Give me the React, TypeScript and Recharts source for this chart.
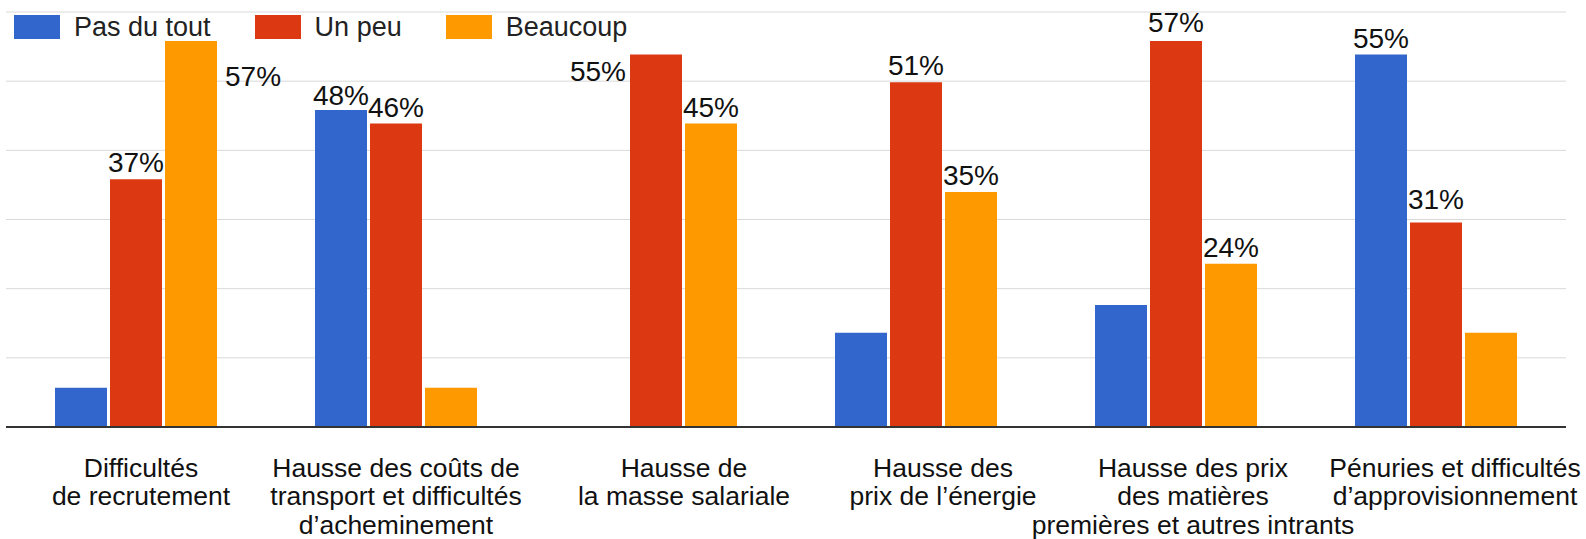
import React from 'react';
import { BarChart, Bar, XAxis, YAxis, CartesianGrid, LabelList } from 'recharts';

const FONT = '"Liberation Sans", Arial, sans-serif';

const CATEGORIES = [
  'Difficultés\nde recrutement',
  'Hausse des coûts de\ntransport et difficultés\nd’acheminement',
  'Hausse de\nla masse salariale',
  'Hausse des\nprix de l’énergie',
  'Hausse des prix\ndes matières\npremières et autres intrants',
  'Pénuries et difficultés\nd’approvisionnement',
];

// bar heights (%)
const PAS_DU_TOUT = [5.8, 46.8, 0, 13.9, 18.0, 55.0];
const UN_PEU = [36.6, 44.8, 55.0, 50.9, 57.0, 30.2];
const BEAUCOUP = [57.0, 5.8, 44.8, 34.7, 24.1, 13.9];

// printed labels (null = no label shown)
const LABELS_PAS_DU_TOUT = [null, '48%', null, null, null, '55%'];
const LABELS_UN_PEU = ['37%', '46%', '55%', '51%', '57%', '31%'];
const LABELS_BEAUCOUP = ['57%', null, '45%', '35%', '24%', null];

const Y_MAX = 61.28;
const GRID_TICKS = [0, 1, 2, 3, 4, 5, 6].map(i => (Y_MAX / 6) * i);

// category captions are not exactly centred under their groups in the original
const TICK_DX = [5, 0, 28, 27, 17, 19];

const SERIES = [
  { key: 'pas', name: 'Pas du tout', color: '#3366cc', values: PAS_DU_TOUT, labels: LABELS_PAS_DU_TOUT },
  { key: 'peu', name: 'Un peu', color: '#dc3912', values: UN_PEU, labels: LABELS_UN_PEU },
  { key: 'beaucoup', name: 'Beaucoup', color: '#ff9900', values: BEAUCOUP, labels: LABELS_BEAUCOUP },
];

// labels that sit beside the bar instead of on top
const SIDE_LABELS: Record<string, { side: 'left' | 'right'; dy: number }> = {
  'beaucoup-0': { side: 'right', dy: 45 },
  'peu-2': { side: 'left', dy: 26 },
};
// small vertical nudges for labels on top
const LABEL_NUDGE: Record<string, number> = {
  'pas-5': -5,
  'peu-5': -6,
  'peu-4': -2,
  'pas-1': 2,
};

const data = CATEGORIES.map((name, i) => {
  const row: Record<string, any> = { name, idx: i };
  SERIES.forEach(s => {
    row[s.key] = s.values[i];
    row[`${s.key}Label`] = s.labels[i];
  });
  return row;
});

const makeLabel = (seriesKey: string) => (props: any) => {
  const { x, y, width, value, index } = props;
  if (!value) return null;
  const o = SIDE_LABELS[`${seriesKey}-${index}`];
  let tx = x + width / 2;
  let ty = y - 7 + (LABEL_NUDGE[`${seriesKey}-${index}`] || 0);
  let anchor: 'middle' | 'start' | 'end' = 'middle';
  if (o) {
    ty = y + o.dy;
    if (o.side === 'right') {
      tx = x + width + 8;
      anchor = 'start';
    } else {
      tx = x - 4;
      anchor = 'end';
    }
  }
  return (
    <text x={tx} y={ty} textAnchor={anchor} fontSize={28} fill="#111" fontFamily={FONT}>
      {value}
    </text>
  );
};

const CategoryTick = (props: any) => {
  const { x, y, payload, index } = props;
  const lines = String(payload.value).split('\n');
  const cx = x + (TICK_DX[index] || 0);
  return (
    <text x={cx} y={y} textAnchor="middle" fontSize={26.5} fill="#111" fontFamily={FONT}>
      {lines.map((line, i) => (
        <tspan key={i} x={cx} y={y + 49.5 + i * 28.5}>{line}</tspan>
      ))}
    </text>
  );
};

const LegendBox = () => (
  <div style={{ position: 'absolute', left: 14, top: 15, display: 'flex', alignItems: 'center', fontFamily: FONT, fontSize: 27, color: '#222' }}>
    {SERIES.map(s => (
      <div key={s.key} style={{ display: 'flex', alignItems: 'center', marginRight: 44 }}>
        <span style={{ display: 'inline-block', width: 46, height: 24, background: s.color, marginRight: 14 }} />
        <span style={{ lineHeight: '24px' }}>{s.name}</span>
      </div>
    ))}
  </div>
);

export default function App() {
  return (
    <div style={{ position: 'absolute', left: 0, top: 0, width: 1586, height: 539, background: '#fff' }}>
      <BarChart
        width={1586}
        height={539}
        data={data}
        margin={{ top: 12, right: 20, left: 6, bottom: 0 }}
        barGap={3}
        style={{ fontFamily: FONT }}
      >
        <CartesianGrid vertical={false} stroke="#d9d9d9" />
        <YAxis hide domain={[0, Y_MAX]} ticks={GRID_TICKS} type="number" allowDataOverflow />
        <XAxis
          dataKey="name"
          height={112}
          interval={0}
          tickLine={false}
          tickSize={0}
          tickMargin={0}
          axisLine={{ stroke: '#333', strokeWidth: 2 }}
          tick={<CategoryTick />}
        />
        {SERIES.map(s => (
          <Bar key={s.key} dataKey={s.key} name={s.name} fill={s.color} barSize={52} isAnimationActive={false}>
            <LabelList dataKey={`${s.key}Label`} content={makeLabel(s.key)} />
          </Bar>
        ))}
      </BarChart>
      <LegendBox />
    </div>
  );
}
